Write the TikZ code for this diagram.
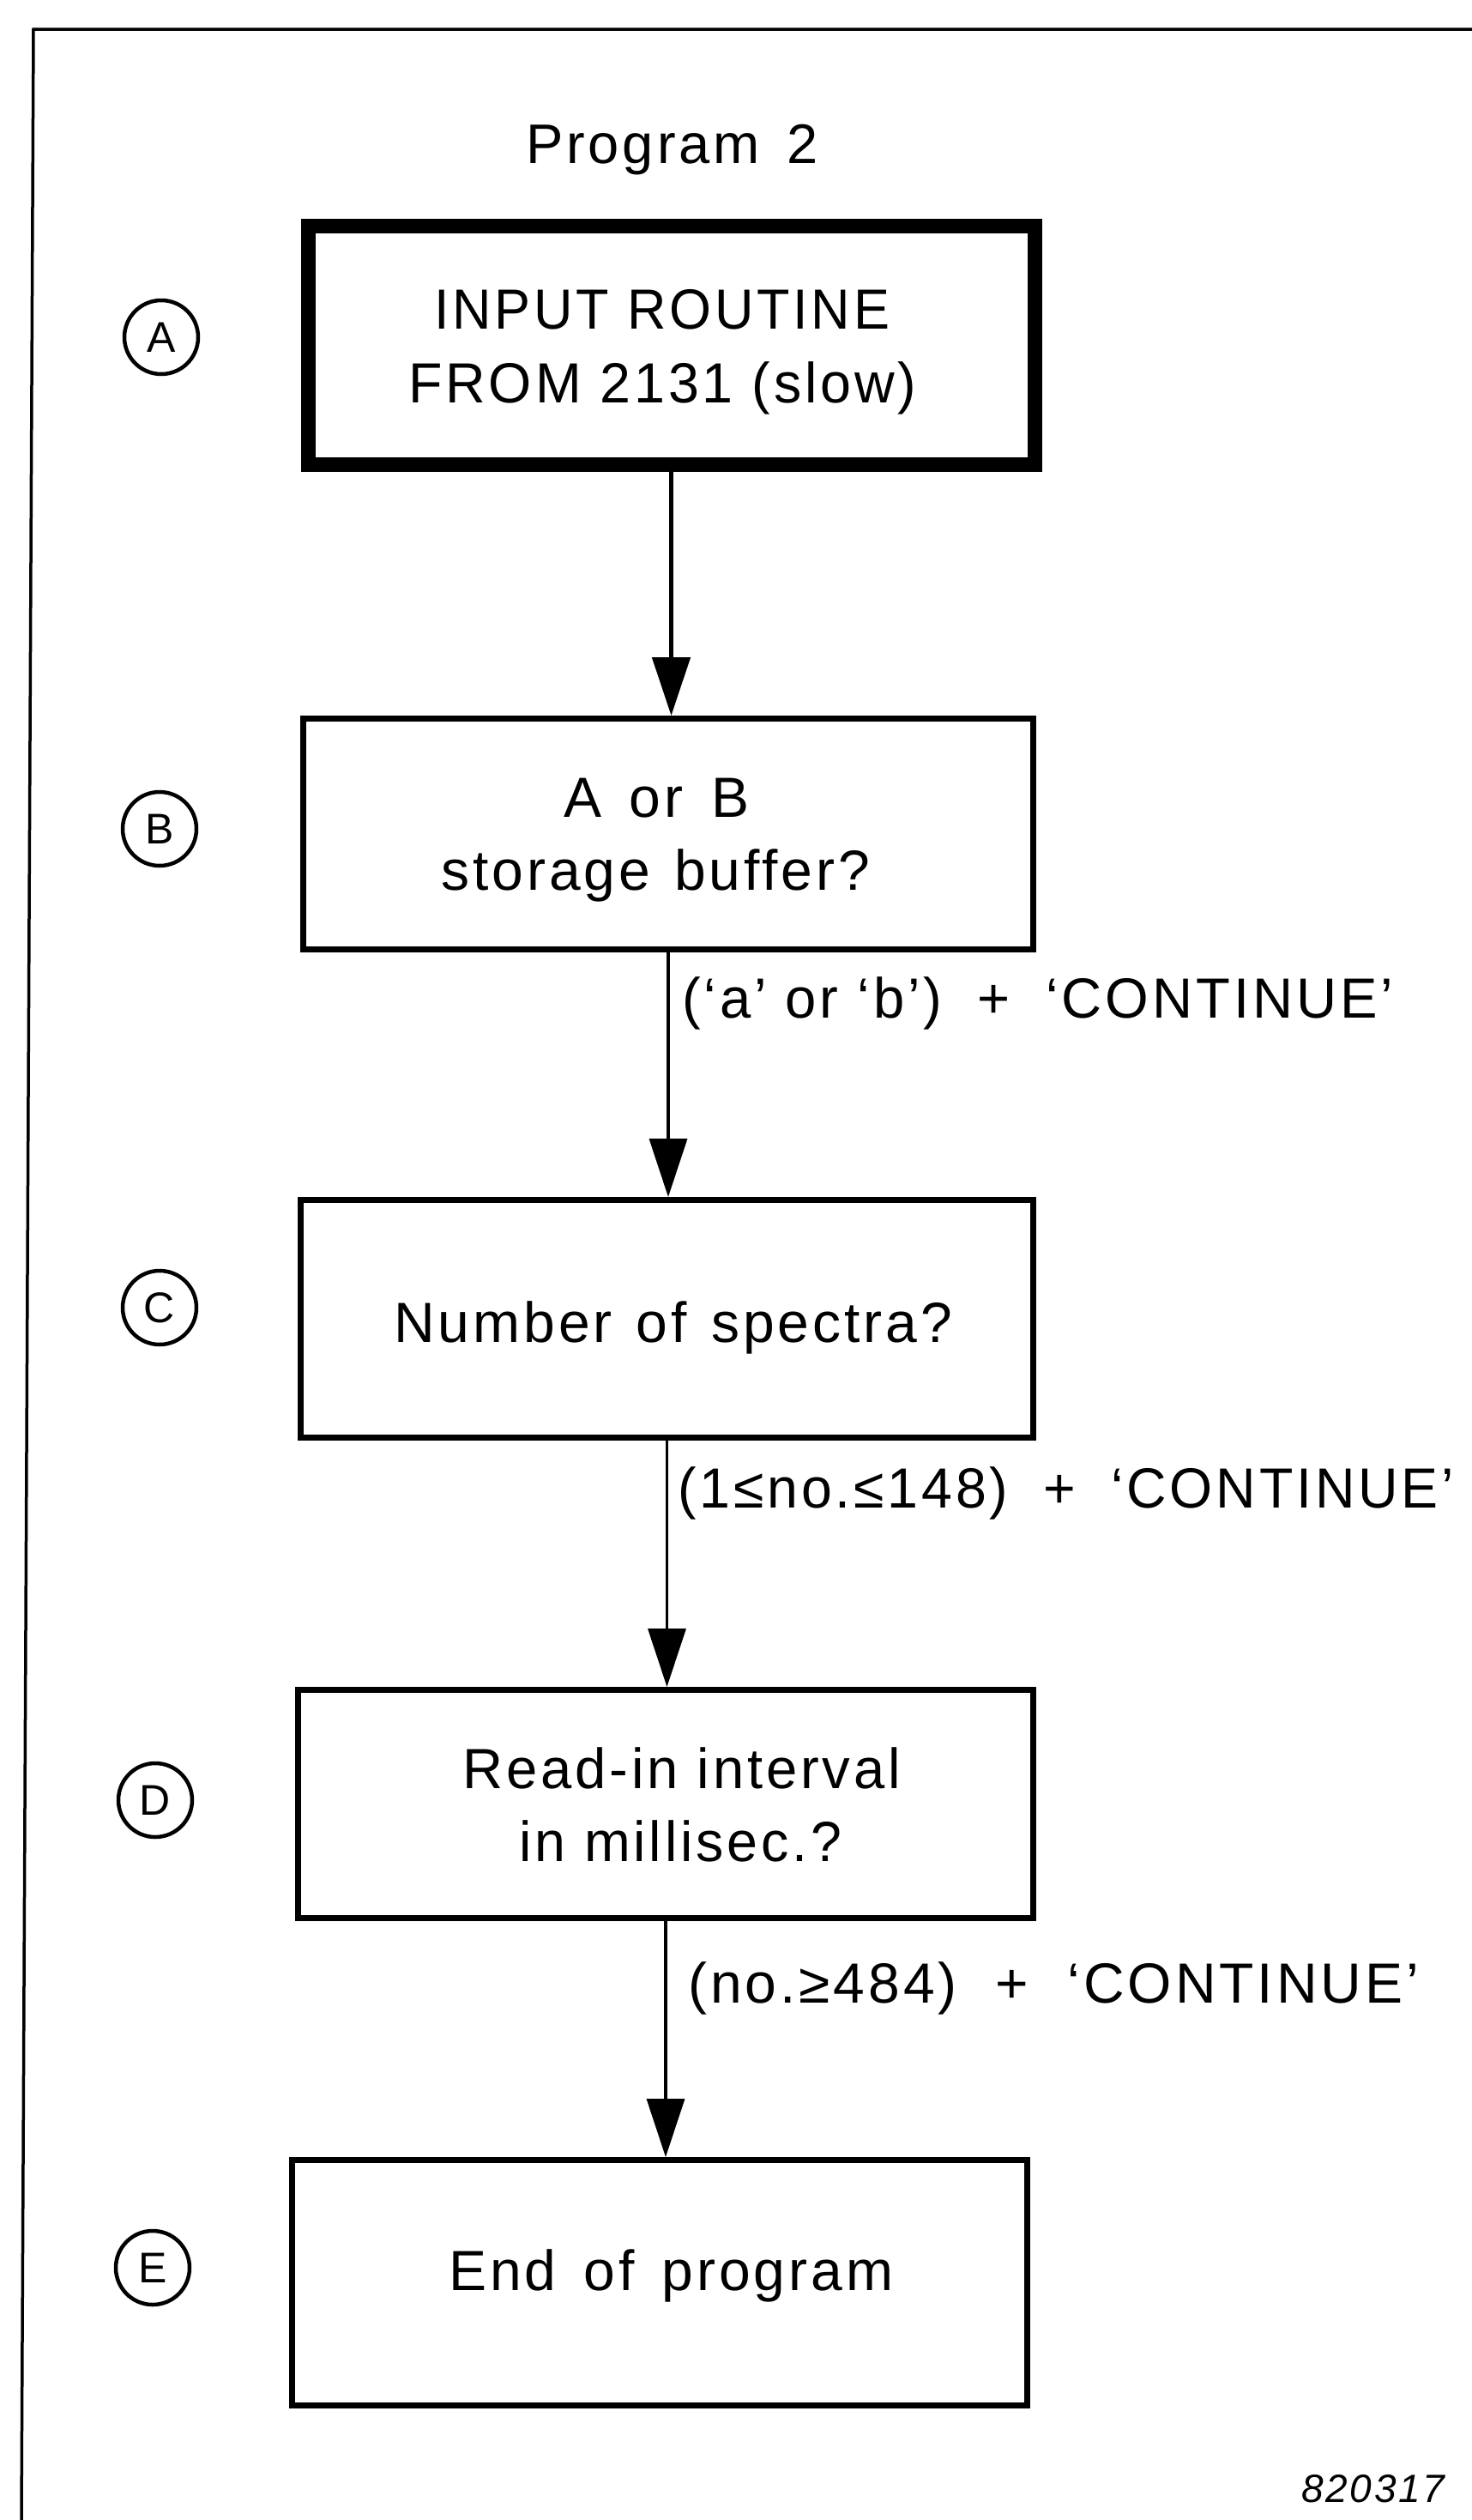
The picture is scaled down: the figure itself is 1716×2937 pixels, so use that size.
\documentclass[tikz,border=0pt]{standalone}
\usepackage{fontspec}
\usepackage{graphicx}
\setmainfont{Liberation Sans}[LetterSpace=6]
\usetikzlibrary{arrows.meta}

% set a line of text to a given width (in pt): widen the spaces, or squeeze the line
\newlength\fitwd
\newcommand\fitto[2]{%
  \settowidth\fitwd{#2}%
  \ifdim\fitwd<#1pt\relax
    \makebox[#1pt][s]{#2}%
  \else
    \pgfmathsetmacro\fitscale{#1/\fitwd}%
    \scalebox{\fitscale}[1]{#2}%
  \fi}
\newcommand\bigtext{\fontsize{66}{79}\selectfont}

\begin{document}
\begin{tikzpicture}[x=1pt,y=-1pt,
  framerule/.style={line width=3.5pt},
  procbox/.style={draw, rectangle, line width=7pt, inner sep=0pt},
  inbox/.style={procbox, line width=17pt},
  tag/.style={draw, circle, line width=4.5pt, minimum size=86pt, inner sep=0pt,
    font=\fontsize{50}{60}\selectfont},
  txt/.style={anchor=base west, inner sep=0pt, font=\bigtext},
  flow/.style={line width=3.5pt, -{Triangle[length=68pt,width=44pt]}},
  mainflow/.style={flow, line width=5pt}]

\useasboundingbox (0,0) rectangle (1716,2937);

% page frame: top and left rules
\coordinate (fne) at (1716,34);
\coordinate (fnw) at (39,34);
\coordinate (fsw) at (25,2937);
\draw[framerule] (fne) -- (fnw) -- (fsw);

% title
\node[txt, font=\fontsize{65}{78}\selectfont] (title) at (613,190) {\fitto{341}{Program 2}};

% process boxes
\node[inbox,   minimum width=847pt, minimum height=278pt] (boxA) at (782.5,402) {};
\node[procbox, minimum width=851pt, minimum height=269pt] (boxB) at (779,972) {};
\node[procbox, minimum width=854pt, minimum height=277pt] (boxC) at (777.5,1537) {};
\node[procbox, minimum width=857pt, minimum height=266pt] (boxD) at (776,2102.5) {};
\node[procbox, minimum width=857pt, minimum height=286pt] (boxE) at (769,2660.5) {};

% box texts
\node[txt] (tA1) at (506,383)  {\fitto{531}{INPUT ROUTINE}};
\node[txt] (tA2) at (476,469)  {\fitto{592}{FROM 2131 (slow)}};
\node[txt] (tB1) at (657,952)  {\fitto{216}{A or B}};
\node[txt] (tB2) at (514,1037) {\fitto{500}{storage buffer?}};
\node[txt] (tC1) at (459,1564) {\fitto{651}{Number of spectra?}};
\node[txt] (tD1) at (539,2084) {\fitto{511}{Read-in interval}};
\node[txt] (tD2) at (605,2169) {\fitto{376}{in millisec.?}};
\node[txt] (tE1) at (523,2669) {\fitto{518}{End of program}};

% step tags
\node[tag] (tagA) at (188,393)  {A};
\node[tag] (tagB) at (186,966)  {B};
\node[tag] (tagC) at (186,1524) {C};
\node[tag] (tagD) at (181,2098) {D};
\node[tag] (tagE) at (178,2643) {E};

% flow connectors
\draw[mainflow] (boxA.south) -- (boxA.south |- boxB.north);
\draw[flow] (boxB.south) -- (boxB.south |- boxC.north);
\draw[flow] (boxC.south) -- (boxC.south |- boxD.north);
\draw[flow] (boxD.south) -- (boxD.south |- boxE.north);

% connector labels
\node[txt] (lB) at (795,1186) {\fitto{829}{(‘a’ or ‘b’)\hspace{.3em} + \hspace{.3em}‘CONTINUE’}};
\node[txt] (lC) at (790,1757) {\fitto{905}{(1≤no.≤148)\hspace{.3em} + \hspace{.3em}‘CONTINUE’}};
\node[txt] (lD) at (802,2334) {\fitto{852}{(no.≥484)\hspace{.3em} + \hspace{.3em}‘CONTINUE’}};

% drawing number
\node[txt, font=\fontsize{46}{55}\selectfont\itshape] (num) at (1517,2916) {\fitto{173}{820317}};

\end{tikzpicture}
\end{document}
